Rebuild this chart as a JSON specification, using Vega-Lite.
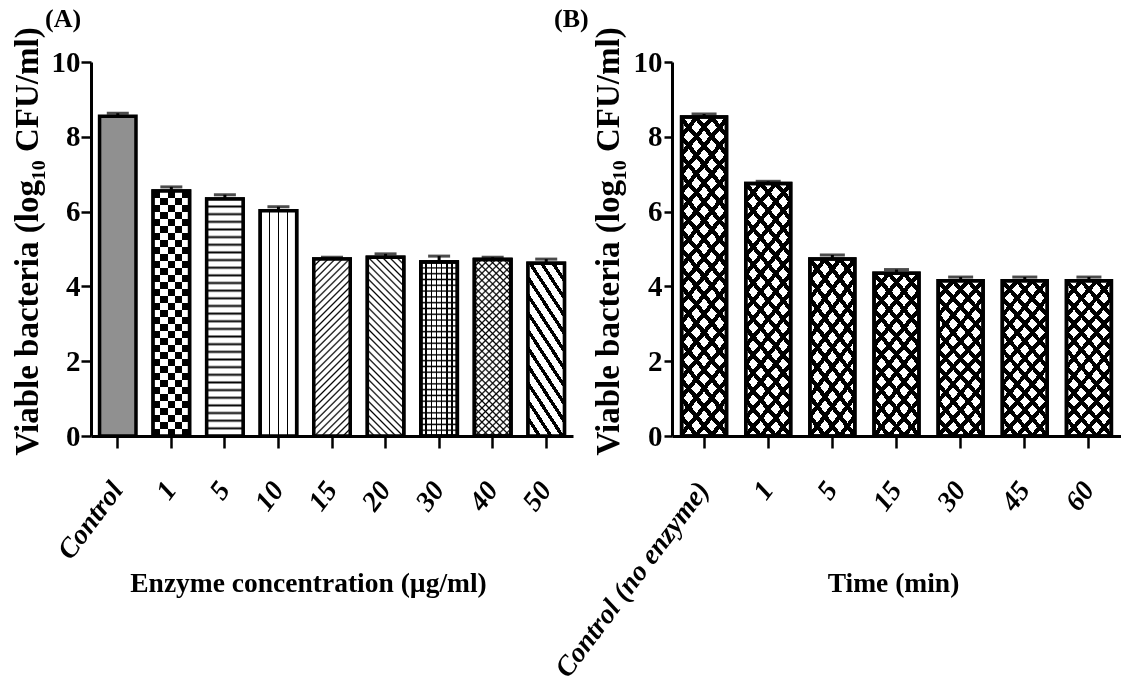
{
  "$schema": "https://vega.github.io/schema/vega-lite/v6.json",
  "autosize": {"type": "pad"},
  "padding": {"left": 10, "top": 5, "right": 0, "bottom": 0},
  "background": "white",
  "bounds": "flush",
  "spacing": 99,
  "config": {
    "view": {"stroke": null},
    "font": "Liberation Serif",
    "axis": {
      "domainColor": "black", "domainWidth": 3, "tickColor": "black", "tickWidth": 2.5,
      "labelColor": "black", "titleColor": "black", "labelFont": "Liberation Serif",
      "titleFont": "Liberation Serif", "labelFontWeight": "bold", "titleFontWeight": "bold", "grid": false, "labelLimit": 500
    },
    "title": {"font": "Liberation Serif", "fontWeight": "bold", "fontSize": 26, "color": "black", "anchor": "start", "frame": "group"}
  },
  "hconcat": [
    {
      "width": 482,
      "height": 374,
      "title": {"text": "(A)", "dx": -46, "offset": -5},
      "data": {"values": [
        {"conc": "Control", "mean": 8.55, "sd": 0.08},
        {"conc": "1", "mean": 6.55, "sd": 0.11},
        {"conc": "5", "mean": 6.34, "sd": 0.11},
        {"conc": "10", "mean": 6.02, "sd": 0.11},
        {"conc": "15", "mean": 4.73, "sd": 0.05},
        {"conc": "20", "mean": 4.78, "sd": 0.09},
        {"conc": "30", "mean": 4.65, "sd": 0.16},
        {"conc": "40", "mean": 4.72, "sd": 0.06},
        {"conc": "50", "mean": 4.62, "sd": 0.11}
      ]},
      "encoding": {
        "x": {
          "field": "conc", "type": "nominal", "sort": null,
          "scale": {"domain": ["Control", "1", "5", "10", "15", "20", "30", "40", "50"], "paddingInner": 0.32, "paddingOuter": 0.16},
          "axis": {
            "title": "Enzyme concentration (µg/ml)", "labelAngle": -53, "labelAlign": "right", "labelBaseline": "middle",
            "labelFontStyle": "italic", "labelFontSize": 28, "tickSize": 12, "labelPadding": 37,
            "titleFontSize": 27.5, "titleX": 217, "titleY": 155, "titleBaseline": "alphabetic"
          }
        },
        "y": {
          "field": "mean", "type": "quantitative", "scale": {"domain": [0, 10]},
          "axis": {
            "title": "Viable bacteria (log₁₀ CFU/ml)", "values": [0, 2, 4, 6, 8, 10], "tickSize": 10, "labelPadding": 1,
            "labelFontSize": 29, "labelFlush": false, "titleFontSize": 33, "titleX": -54, "titleY": 179,
            "titleBaseline": "alphabetic", "titleAngle": -90
          }
        }
      },
      "layer": [
        {
          "mark": {"type": "errorbar", "ticks": {"size": 22, "thickness": 3, "color": "black"}, "rule": {"strokeWidth": 3, "color": "black"}},
          "encoding": {"yError": {"field": "sd"}}
        },
        {
          "mark": {"type": "bar", "stroke": "black", "strokeWidth": 3.5, "opacity": 1},
          "encoding": {
            "fill": {
              "field": "conc", "type": "nominal", "sort": null, "legend": null,
              "scale": {
                "domain": ["Control", "1", "5", "10", "15", "20", "30", "40", "50"],
                "range": ["#909090", "#8a8a8a", "#bdbdbd", "#e0e0e0", "#b5b5b5", "#b5b5b5", "#a8a8a8", "#9e9e9e", "#a6a6a6"]
              }
            }
          }
        },
        {
          "transform": [{"filter": "datum.conc === '1'"}],
          "mark": {"type": "bar", "stroke": "black", "strokeWidth": 3.5, "opacity": 1,
            "fill": {"gradient": "linear", "x1": 0, "y1": 0, "x2": 1, "y2": 0, "stops": [
              {"offset": 0, "color": "#000"}, {"offset": 0.2, "color": "#000"}, {"offset": 0.2, "color": "#fff"},
              {"offset": 0.4, "color": "#fff"}, {"offset": 0.4, "color": "#000"}, {"offset": 0.6, "color": "#000"},
              {"offset": 0.6, "color": "#fff"}, {"offset": 0.8, "color": "#fff"}, {"offset": 0.8, "color": "#000"},
              {"offset": 1, "color": "#000"}
            ]}
          },
          "encoding": {}
        },
        {
          "transform": [{"filter": "datum.conc === '1'"}],
          "mark": {"type": "bar", "stroke": "black", "strokeWidth": 3.5, "opacity": 1, "blend": "difference",
            "fill": {"gradient": "linear", "x1": 0, "y1": 0, "x2": 0, "y2": 1, "stops": [
              {"offset": 0, "color": "#000"}, {"offset": 0.0286, "color": "#000"}, {"offset": 0.0286, "color": "#fff"},
              {"offset": 0.0571, "color": "#fff"}, {"offset": 0.0571, "color": "#000"}, {"offset": 0.0857, "color": "#000"}, {"offset": 0.0857, "color": "#fff"},
              {"offset": 0.1143, "color": "#fff"}, {"offset": 0.1143, "color": "#000"}, {"offset": 0.1429, "color": "#000"}, {"offset": 0.1429, "color": "#fff"},
              {"offset": 0.1714, "color": "#fff"}, {"offset": 0.1714, "color": "#000"}, {"offset": 0.2, "color": "#000"}, {"offset": 0.2, "color": "#fff"},
              {"offset": 0.2286, "color": "#fff"}, {"offset": 0.2286, "color": "#000"}, {"offset": 0.2571, "color": "#000"}, {"offset": 0.2571, "color": "#fff"},
              {"offset": 0.2857, "color": "#fff"}, {"offset": 0.2857, "color": "#000"}, {"offset": 0.3143, "color": "#000"}, {"offset": 0.3143, "color": "#fff"},
              {"offset": 0.3429, "color": "#fff"}, {"offset": 0.3429, "color": "#000"}, {"offset": 0.3714, "color": "#000"}, {"offset": 0.3714, "color": "#fff"},
              {"offset": 0.4, "color": "#fff"}, {"offset": 0.4, "color": "#000"}, {"offset": 0.4286, "color": "#000"}, {"offset": 0.4286, "color": "#fff"},
              {"offset": 0.4571, "color": "#fff"}, {"offset": 0.4571, "color": "#000"}, {"offset": 0.4857, "color": "#000"}, {"offset": 0.4857, "color": "#fff"},
              {"offset": 0.5143, "color": "#fff"}, {"offset": 0.5143, "color": "#000"}, {"offset": 0.5429, "color": "#000"}, {"offset": 0.5429, "color": "#fff"},
              {"offset": 0.5714, "color": "#fff"}, {"offset": 0.5714, "color": "#000"}, {"offset": 0.6, "color": "#000"}, {"offset": 0.6, "color": "#fff"},
              {"offset": 0.6286, "color": "#fff"}, {"offset": 0.6286, "color": "#000"}, {"offset": 0.6571, "color": "#000"}, {"offset": 0.6571, "color": "#fff"},
              {"offset": 0.6857, "color": "#fff"}, {"offset": 0.6857, "color": "#000"}, {"offset": 0.7143, "color": "#000"}, {"offset": 0.7143, "color": "#fff"},
              {"offset": 0.7429, "color": "#fff"}, {"offset": 0.7429, "color": "#000"}, {"offset": 0.7714, "color": "#000"}, {"offset": 0.7714, "color": "#fff"},
              {"offset": 0.8, "color": "#fff"}, {"offset": 0.8, "color": "#000"}, {"offset": 0.8286, "color": "#000"}, {"offset": 0.8286, "color": "#fff"},
              {"offset": 0.8571, "color": "#fff"}, {"offset": 0.8571, "color": "#000"}, {"offset": 0.8857, "color": "#000"}, {"offset": 0.8857, "color": "#fff"},
              {"offset": 0.9143, "color": "#fff"}, {"offset": 0.9143, "color": "#000"}, {"offset": 0.9429, "color": "#000"}, {"offset": 0.9429, "color": "#fff"},
              {"offset": 0.9714, "color": "#fff"}, {"offset": 0.9714, "color": "#000"}, {"offset": 1, "color": "#000"}
            ]}
          },
          "encoding": {}
        },
        {
          "transform": [{"filter": "datum.conc === '10'"}],
          "mark": {"type": "bar", "stroke": "black", "strokeWidth": 3.5, "opacity": 1,
            "fill": {"gradient": "linear", "x1": 0, "y1": 0, "x2": 1, "y2": 0, "stops": [
              {"offset": 0, "color": "white"}, {"offset": 0.23, "color": "white"}, {"offset": 0.23, "color": "black"},
              {"offset": 0.27, "color": "black"}, {"offset": 0.27, "color": "white"}, {"offset": 0.48, "color": "white"},
              {"offset": 0.48, "color": "black"}, {"offset": 0.52, "color": "black"}, {"offset": 0.52, "color": "white"},
              {"offset": 0.73, "color": "white"}, {"offset": 0.73, "color": "black"}, {"offset": 0.77, "color": "black"},
              {"offset": 0.77, "color": "white"}, {"offset": 1, "color": "white"}
            ]}
          },
          "encoding": {}
        },
        {
          "transform": [{"filter": "datum.conc === '5'"}],
          "mark": {"type": "bar", "stroke": "black", "strokeWidth": 3.5, "opacity": 1,
            "fill": {"gradient": "linear", "x1": 0, "y1": 0, "x2": 0, "y2": 1, "stops": [
              {"offset": 0, "color": "white"},
              {"offset": 0.0238, "color": "white"}, {"offset": 0.0323, "color": "black"}, {"offset": 0.0408, "color": "white"},
              {"offset": 0.056, "color": "white"}, {"offset": 0.0645, "color": "black"}, {"offset": 0.073, "color": "white"},
              {"offset": 0.0883, "color": "white"}, {"offset": 0.0968, "color": "black"}, {"offset": 0.1053, "color": "white"},
              {"offset": 0.1205, "color": "white"}, {"offset": 0.129, "color": "black"}, {"offset": 0.1375, "color": "white"},
              {"offset": 0.1528, "color": "white"}, {"offset": 0.1613, "color": "black"}, {"offset": 0.1698, "color": "white"},
              {"offset": 0.185, "color": "white"}, {"offset": 0.1935, "color": "black"}, {"offset": 0.202, "color": "white"},
              {"offset": 0.2173, "color": "white"}, {"offset": 0.2258, "color": "black"}, {"offset": 0.2343, "color": "white"},
              {"offset": 0.2496, "color": "white"}, {"offset": 0.2581, "color": "black"}, {"offset": 0.2666, "color": "white"},
              {"offset": 0.2818, "color": "white"}, {"offset": 0.2903, "color": "black"}, {"offset": 0.2988, "color": "white"},
              {"offset": 0.3141, "color": "white"}, {"offset": 0.3226, "color": "black"}, {"offset": 0.3311, "color": "white"},
              {"offset": 0.3463, "color": "white"}, {"offset": 0.3548, "color": "black"}, {"offset": 0.3633, "color": "white"},
              {"offset": 0.3786, "color": "white"}, {"offset": 0.3871, "color": "black"}, {"offset": 0.3956, "color": "white"},
              {"offset": 0.4109, "color": "white"}, {"offset": 0.4194, "color": "black"}, {"offset": 0.4279, "color": "white"},
              {"offset": 0.4431, "color": "white"}, {"offset": 0.4516, "color": "black"}, {"offset": 0.4601, "color": "white"},
              {"offset": 0.4754, "color": "white"}, {"offset": 0.4839, "color": "black"}, {"offset": 0.4924, "color": "white"},
              {"offset": 0.5076, "color": "white"}, {"offset": 0.5161, "color": "black"}, {"offset": 0.5246, "color": "white"},
              {"offset": 0.5399, "color": "white"}, {"offset": 0.5484, "color": "black"}, {"offset": 0.5569, "color": "white"},
              {"offset": 0.5721, "color": "white"}, {"offset": 0.5806, "color": "black"}, {"offset": 0.5891, "color": "white"},
              {"offset": 0.6044, "color": "white"}, {"offset": 0.6129, "color": "black"}, {"offset": 0.6214, "color": "white"},
              {"offset": 0.6367, "color": "white"}, {"offset": 0.6452, "color": "black"}, {"offset": 0.6537, "color": "white"},
              {"offset": 0.6689, "color": "white"}, {"offset": 0.6774, "color": "black"}, {"offset": 0.6859, "color": "white"},
              {"offset": 0.7012, "color": "white"}, {"offset": 0.7097, "color": "black"}, {"offset": 0.7182, "color": "white"},
              {"offset": 0.7334, "color": "white"}, {"offset": 0.7419, "color": "black"}, {"offset": 0.7504, "color": "white"},
              {"offset": 0.7657, "color": "white"}, {"offset": 0.7742, "color": "black"}, {"offset": 0.7827, "color": "white"},
              {"offset": 0.798, "color": "white"}, {"offset": 0.8065, "color": "black"}, {"offset": 0.815, "color": "white"},
              {"offset": 0.8302, "color": "white"}, {"offset": 0.8387, "color": "black"}, {"offset": 0.8472, "color": "white"},
              {"offset": 0.8625, "color": "white"}, {"offset": 0.871, "color": "black"}, {"offset": 0.8795, "color": "white"},
              {"offset": 0.8947, "color": "white"}, {"offset": 0.9032, "color": "black"}, {"offset": 0.9117, "color": "white"},
              {"offset": 0.927, "color": "white"}, {"offset": 0.9355, "color": "black"}, {"offset": 0.944, "color": "white"},
              {"offset": 0.9592, "color": "white"}, {"offset": 0.9677, "color": "black"}, {"offset": 0.9762, "color": "white"},
              {"offset": 1, "color": "white"}
            ]}
          },
          "encoding": {}
        },
        {
          "transform": [{"filter": "datum.conc === '15' || datum.conc === '40'"}],
          "mark": {"type": "bar", "stroke": "black", "strokeWidth": 3.5, "opacity": 1,
            "fill": {"gradient": "linear", "x1": 0, "y1": 0, "x2": 0.237, "y2": 1.156, "stops": [
              {"offset": 0, "color": "#fff"},
              {"offset": 0.0253, "color": "#fff"}, {"offset": 0.0333, "color": "#000"}, {"offset": 0.0413, "color": "#fff"},
              {"offset": 0.0587, "color": "#fff"}, {"offset": 0.0667, "color": "#000"}, {"offset": 0.0747, "color": "#fff"},
              {"offset": 0.092, "color": "#fff"}, {"offset": 0.1, "color": "#000"}, {"offset": 0.108, "color": "#fff"},
              {"offset": 0.1253, "color": "#fff"}, {"offset": 0.1333, "color": "#000"}, {"offset": 0.1413, "color": "#fff"},
              {"offset": 0.1587, "color": "#fff"}, {"offset": 0.1667, "color": "#000"}, {"offset": 0.1747, "color": "#fff"},
              {"offset": 0.192, "color": "#fff"}, {"offset": 0.2, "color": "#000"}, {"offset": 0.208, "color": "#fff"},
              {"offset": 0.2253, "color": "#fff"}, {"offset": 0.2333, "color": "#000"}, {"offset": 0.2413, "color": "#fff"},
              {"offset": 0.2587, "color": "#fff"}, {"offset": 0.2667, "color": "#000"}, {"offset": 0.2747, "color": "#fff"},
              {"offset": 0.292, "color": "#fff"}, {"offset": 0.3, "color": "#000"}, {"offset": 0.308, "color": "#fff"},
              {"offset": 0.3253, "color": "#fff"}, {"offset": 0.3333, "color": "#000"}, {"offset": 0.3413, "color": "#fff"},
              {"offset": 0.3587, "color": "#fff"}, {"offset": 0.3667, "color": "#000"}, {"offset": 0.3747, "color": "#fff"},
              {"offset": 0.392, "color": "#fff"}, {"offset": 0.4, "color": "#000"}, {"offset": 0.408, "color": "#fff"},
              {"offset": 0.4253, "color": "#fff"}, {"offset": 0.4333, "color": "#000"}, {"offset": 0.4413, "color": "#fff"},
              {"offset": 0.4587, "color": "#fff"}, {"offset": 0.4667, "color": "#000"}, {"offset": 0.4747, "color": "#fff"},
              {"offset": 0.492, "color": "#fff"}, {"offset": 0.5, "color": "#000"}, {"offset": 0.508, "color": "#fff"},
              {"offset": 0.5253, "color": "#fff"}, {"offset": 0.5333, "color": "#000"}, {"offset": 0.5413, "color": "#fff"},
              {"offset": 0.5587, "color": "#fff"}, {"offset": 0.5667, "color": "#000"}, {"offset": 0.5747, "color": "#fff"},
              {"offset": 0.592, "color": "#fff"}, {"offset": 0.6, "color": "#000"}, {"offset": 0.608, "color": "#fff"},
              {"offset": 0.6253, "color": "#fff"}, {"offset": 0.6333, "color": "#000"}, {"offset": 0.6413, "color": "#fff"},
              {"offset": 0.6587, "color": "#fff"}, {"offset": 0.6667, "color": "#000"}, {"offset": 0.6747, "color": "#fff"},
              {"offset": 0.692, "color": "#fff"}, {"offset": 0.7, "color": "#000"}, {"offset": 0.708, "color": "#fff"},
              {"offset": 0.7253, "color": "#fff"}, {"offset": 0.7333, "color": "#000"}, {"offset": 0.7413, "color": "#fff"},
              {"offset": 0.7587, "color": "#fff"}, {"offset": 0.7667, "color": "#000"}, {"offset": 0.7747, "color": "#fff"},
              {"offset": 0.792, "color": "#fff"}, {"offset": 0.8, "color": "#000"}, {"offset": 0.808, "color": "#fff"},
              {"offset": 0.8253, "color": "#fff"}, {"offset": 0.8333, "color": "#000"}, {"offset": 0.8413, "color": "#fff"},
              {"offset": 0.8587, "color": "#fff"}, {"offset": 0.8667, "color": "#000"}, {"offset": 0.8747, "color": "#fff"},
              {"offset": 0.892, "color": "#fff"}, {"offset": 0.9, "color": "#000"}, {"offset": 0.908, "color": "#fff"},
              {"offset": 0.9253, "color": "#fff"}, {"offset": 0.9333, "color": "#000"}, {"offset": 0.9413, "color": "#fff"},
              {"offset": 0.9587, "color": "#fff"}, {"offset": 0.9667, "color": "#000"}, {"offset": 0.9747, "color": "#fff"},
              {"offset": 1, "color": "#fff"}
            ]}
          },
          "encoding": {}
        },
        {
          "transform": [{"filter": "datum.conc === '20'"}],
          "mark": {"type": "bar", "stroke": "black", "strokeWidth": 3.5, "opacity": 1,
            "fill": {"gradient": "linear", "x1": 0, "y1": 1, "x2": 0.237, "y2": -0.156, "stops": [
              {"offset": 0, "color": "#fff"},
              {"offset": 0.0253, "color": "#fff"}, {"offset": 0.0333, "color": "#000"}, {"offset": 0.0413, "color": "#fff"},
              {"offset": 0.0587, "color": "#fff"}, {"offset": 0.0667, "color": "#000"}, {"offset": 0.0747, "color": "#fff"},
              {"offset": 0.092, "color": "#fff"}, {"offset": 0.1, "color": "#000"}, {"offset": 0.108, "color": "#fff"},
              {"offset": 0.1253, "color": "#fff"}, {"offset": 0.1333, "color": "#000"}, {"offset": 0.1413, "color": "#fff"},
              {"offset": 0.1587, "color": "#fff"}, {"offset": 0.1667, "color": "#000"}, {"offset": 0.1747, "color": "#fff"},
              {"offset": 0.192, "color": "#fff"}, {"offset": 0.2, "color": "#000"}, {"offset": 0.208, "color": "#fff"},
              {"offset": 0.2253, "color": "#fff"}, {"offset": 0.2333, "color": "#000"}, {"offset": 0.2413, "color": "#fff"},
              {"offset": 0.2587, "color": "#fff"}, {"offset": 0.2667, "color": "#000"}, {"offset": 0.2747, "color": "#fff"},
              {"offset": 0.292, "color": "#fff"}, {"offset": 0.3, "color": "#000"}, {"offset": 0.308, "color": "#fff"},
              {"offset": 0.3253, "color": "#fff"}, {"offset": 0.3333, "color": "#000"}, {"offset": 0.3413, "color": "#fff"},
              {"offset": 0.3587, "color": "#fff"}, {"offset": 0.3667, "color": "#000"}, {"offset": 0.3747, "color": "#fff"},
              {"offset": 0.392, "color": "#fff"}, {"offset": 0.4, "color": "#000"}, {"offset": 0.408, "color": "#fff"},
              {"offset": 0.4253, "color": "#fff"}, {"offset": 0.4333, "color": "#000"}, {"offset": 0.4413, "color": "#fff"},
              {"offset": 0.4587, "color": "#fff"}, {"offset": 0.4667, "color": "#000"}, {"offset": 0.4747, "color": "#fff"},
              {"offset": 0.492, "color": "#fff"}, {"offset": 0.5, "color": "#000"}, {"offset": 0.508, "color": "#fff"},
              {"offset": 0.5253, "color": "#fff"}, {"offset": 0.5333, "color": "#000"}, {"offset": 0.5413, "color": "#fff"},
              {"offset": 0.5587, "color": "#fff"}, {"offset": 0.5667, "color": "#000"}, {"offset": 0.5747, "color": "#fff"},
              {"offset": 0.592, "color": "#fff"}, {"offset": 0.6, "color": "#000"}, {"offset": 0.608, "color": "#fff"},
              {"offset": 0.6253, "color": "#fff"}, {"offset": 0.6333, "color": "#000"}, {"offset": 0.6413, "color": "#fff"},
              {"offset": 0.6587, "color": "#fff"}, {"offset": 0.6667, "color": "#000"}, {"offset": 0.6747, "color": "#fff"},
              {"offset": 0.692, "color": "#fff"}, {"offset": 0.7, "color": "#000"}, {"offset": 0.708, "color": "#fff"},
              {"offset": 0.7253, "color": "#fff"}, {"offset": 0.7333, "color": "#000"}, {"offset": 0.7413, "color": "#fff"},
              {"offset": 0.7587, "color": "#fff"}, {"offset": 0.7667, "color": "#000"}, {"offset": 0.7747, "color": "#fff"},
              {"offset": 0.792, "color": "#fff"}, {"offset": 0.8, "color": "#000"}, {"offset": 0.808, "color": "#fff"},
              {"offset": 0.8253, "color": "#fff"}, {"offset": 0.8333, "color": "#000"}, {"offset": 0.8413, "color": "#fff"},
              {"offset": 0.8587, "color": "#fff"}, {"offset": 0.8667, "color": "#000"}, {"offset": 0.8747, "color": "#fff"},
              {"offset": 0.892, "color": "#fff"}, {"offset": 0.9, "color": "#000"}, {"offset": 0.908, "color": "#fff"},
              {"offset": 0.9253, "color": "#fff"}, {"offset": 0.9333, "color": "#000"}, {"offset": 0.9413, "color": "#fff"},
              {"offset": 0.9587, "color": "#fff"}, {"offset": 0.9667, "color": "#000"}, {"offset": 0.9747, "color": "#fff"},
              {"offset": 1, "color": "#fff"}
            ]}
          },
          "encoding": {}
        },
        {
          "transform": [{"filter": "datum.conc === '30'"}],
          "mark": {"type": "bar", "stroke": "black", "strokeWidth": 3.5, "opacity": 1,
            "fill": {"gradient": "linear", "x1": 0, "y1": 0, "x2": 1, "y2": 0, "stops": [
              {"offset": 0, "color": "#fff"}, {"offset": 0.123, "color": "#fff"}, {"offset": 0.123, "color": "#000"}, {"offset": 0.163, "color": "#000"}, {"offset": 0.163, "color": "#fff"},
              {"offset": 0.266, "color": "#fff"}, {"offset": 0.266, "color": "#000"}, {"offset": 0.306, "color": "#000"}, {"offset": 0.306, "color": "#fff"},
              {"offset": 0.409, "color": "#fff"}, {"offset": 0.409, "color": "#000"}, {"offset": 0.449, "color": "#000"}, {"offset": 0.449, "color": "#fff"},
              {"offset": 0.551, "color": "#fff"}, {"offset": 0.551, "color": "#000"}, {"offset": 0.591, "color": "#000"}, {"offset": 0.591, "color": "#fff"},
              {"offset": 0.694, "color": "#fff"}, {"offset": 0.694, "color": "#000"}, {"offset": 0.734, "color": "#000"}, {"offset": 0.734, "color": "#fff"},
              {"offset": 0.837, "color": "#fff"}, {"offset": 0.837, "color": "#000"}, {"offset": 0.877, "color": "#000"}, {"offset": 0.877, "color": "#fff"},
              {"offset": 1, "color": "#fff"}
            ]}
          },
          "encoding": {}
        },
        {
          "transform": [{"filter": "datum.conc === '30'"}],
          "mark": {"type": "bar", "stroke": "black", "strokeWidth": 3.5, "opacity": 1,
            "fill": {"gradient": "linear", "x1": 0, "y1": 0, "x2": 0, "y2": 1, "stops": [
              {"offset": 0, "color": "transparent"},
              {"offset": 0.0253, "color": "transparent"}, {"offset": 0.0333, "color": "#000"}, {"offset": 0.0413, "color": "transparent"},
              {"offset": 0.0587, "color": "transparent"}, {"offset": 0.0667, "color": "#000"}, {"offset": 0.0747, "color": "transparent"},
              {"offset": 0.092, "color": "transparent"}, {"offset": 0.1, "color": "#000"}, {"offset": 0.108, "color": "transparent"},
              {"offset": 0.1253, "color": "transparent"}, {"offset": 0.1333, "color": "#000"}, {"offset": 0.1413, "color": "transparent"},
              {"offset": 0.1587, "color": "transparent"}, {"offset": 0.1667, "color": "#000"}, {"offset": 0.1747, "color": "transparent"},
              {"offset": 0.192, "color": "transparent"}, {"offset": 0.2, "color": "#000"}, {"offset": 0.208, "color": "transparent"},
              {"offset": 0.2253, "color": "transparent"}, {"offset": 0.2333, "color": "#000"}, {"offset": 0.2413, "color": "transparent"},
              {"offset": 0.2587, "color": "transparent"}, {"offset": 0.2667, "color": "#000"}, {"offset": 0.2747, "color": "transparent"},
              {"offset": 0.292, "color": "transparent"}, {"offset": 0.3, "color": "#000"}, {"offset": 0.308, "color": "transparent"},
              {"offset": 0.3253, "color": "transparent"}, {"offset": 0.3333, "color": "#000"}, {"offset": 0.3413, "color": "transparent"},
              {"offset": 0.3587, "color": "transparent"}, {"offset": 0.3667, "color": "#000"}, {"offset": 0.3747, "color": "transparent"},
              {"offset": 0.392, "color": "transparent"}, {"offset": 0.4, "color": "#000"}, {"offset": 0.408, "color": "transparent"},
              {"offset": 0.4253, "color": "transparent"}, {"offset": 0.4333, "color": "#000"}, {"offset": 0.4413, "color": "transparent"},
              {"offset": 0.4587, "color": "transparent"}, {"offset": 0.4667, "color": "#000"}, {"offset": 0.4747, "color": "transparent"},
              {"offset": 0.492, "color": "transparent"}, {"offset": 0.5, "color": "#000"}, {"offset": 0.508, "color": "transparent"},
              {"offset": 0.5253, "color": "transparent"}, {"offset": 0.5333, "color": "#000"}, {"offset": 0.5413, "color": "transparent"},
              {"offset": 0.5587, "color": "transparent"}, {"offset": 0.5667, "color": "#000"}, {"offset": 0.5747, "color": "transparent"},
              {"offset": 0.592, "color": "transparent"}, {"offset": 0.6, "color": "#000"}, {"offset": 0.608, "color": "transparent"},
              {"offset": 0.6253, "color": "transparent"}, {"offset": 0.6333, "color": "#000"}, {"offset": 0.6413, "color": "transparent"},
              {"offset": 0.6587, "color": "transparent"}, {"offset": 0.6667, "color": "#000"}, {"offset": 0.6747, "color": "transparent"},
              {"offset": 0.692, "color": "transparent"}, {"offset": 0.7, "color": "#000"}, {"offset": 0.708, "color": "transparent"},
              {"offset": 0.7253, "color": "transparent"}, {"offset": 0.7333, "color": "#000"}, {"offset": 0.7413, "color": "transparent"},
              {"offset": 0.7587, "color": "transparent"}, {"offset": 0.7667, "color": "#000"}, {"offset": 0.7747, "color": "transparent"},
              {"offset": 0.792, "color": "transparent"}, {"offset": 0.8, "color": "#000"}, {"offset": 0.808, "color": "transparent"},
              {"offset": 0.8253, "color": "transparent"}, {"offset": 0.8333, "color": "#000"}, {"offset": 0.8413, "color": "transparent"},
              {"offset": 0.8587, "color": "transparent"}, {"offset": 0.8667, "color": "#000"}, {"offset": 0.8747, "color": "transparent"},
              {"offset": 0.892, "color": "transparent"}, {"offset": 0.9, "color": "#000"}, {"offset": 0.908, "color": "transparent"},
              {"offset": 0.9253, "color": "transparent"}, {"offset": 0.9333, "color": "#000"}, {"offset": 0.9413, "color": "transparent"},
              {"offset": 0.9587, "color": "transparent"}, {"offset": 0.9667, "color": "#000"}, {"offset": 0.9747, "color": "transparent"},
              {"offset": 1, "color": "transparent"}
            ]}
          },
          "encoding": {}
        },
        {
          "transform": [{"filter": "datum.conc === '40'"}],
          "mark": {"type": "bar", "stroke": "black", "strokeWidth": 3.5, "opacity": 1,
            "fill": {"gradient": "linear", "x1": 0, "y1": 1, "x2": 0.237, "y2": -0.156, "stops": [
              {"offset": 0, "color": "transparent"},
              {"offset": 0.0253, "color": "transparent"}, {"offset": 0.0333, "color": "#000"}, {"offset": 0.0413, "color": "transparent"},
              {"offset": 0.0587, "color": "transparent"}, {"offset": 0.0667, "color": "#000"}, {"offset": 0.0747, "color": "transparent"},
              {"offset": 0.092, "color": "transparent"}, {"offset": 0.1, "color": "#000"}, {"offset": 0.108, "color": "transparent"},
              {"offset": 0.1253, "color": "transparent"}, {"offset": 0.1333, "color": "#000"}, {"offset": 0.1413, "color": "transparent"},
              {"offset": 0.1587, "color": "transparent"}, {"offset": 0.1667, "color": "#000"}, {"offset": 0.1747, "color": "transparent"},
              {"offset": 0.192, "color": "transparent"}, {"offset": 0.2, "color": "#000"}, {"offset": 0.208, "color": "transparent"},
              {"offset": 0.2253, "color": "transparent"}, {"offset": 0.2333, "color": "#000"}, {"offset": 0.2413, "color": "transparent"},
              {"offset": 0.2587, "color": "transparent"}, {"offset": 0.2667, "color": "#000"}, {"offset": 0.2747, "color": "transparent"},
              {"offset": 0.292, "color": "transparent"}, {"offset": 0.3, "color": "#000"}, {"offset": 0.308, "color": "transparent"},
              {"offset": 0.3253, "color": "transparent"}, {"offset": 0.3333, "color": "#000"}, {"offset": 0.3413, "color": "transparent"},
              {"offset": 0.3587, "color": "transparent"}, {"offset": 0.3667, "color": "#000"}, {"offset": 0.3747, "color": "transparent"},
              {"offset": 0.392, "color": "transparent"}, {"offset": 0.4, "color": "#000"}, {"offset": 0.408, "color": "transparent"},
              {"offset": 0.4253, "color": "transparent"}, {"offset": 0.4333, "color": "#000"}, {"offset": 0.4413, "color": "transparent"},
              {"offset": 0.4587, "color": "transparent"}, {"offset": 0.4667, "color": "#000"}, {"offset": 0.4747, "color": "transparent"},
              {"offset": 0.492, "color": "transparent"}, {"offset": 0.5, "color": "#000"}, {"offset": 0.508, "color": "transparent"},
              {"offset": 0.5253, "color": "transparent"}, {"offset": 0.5333, "color": "#000"}, {"offset": 0.5413, "color": "transparent"},
              {"offset": 0.5587, "color": "transparent"}, {"offset": 0.5667, "color": "#000"}, {"offset": 0.5747, "color": "transparent"},
              {"offset": 0.592, "color": "transparent"}, {"offset": 0.6, "color": "#000"}, {"offset": 0.608, "color": "transparent"},
              {"offset": 0.6253, "color": "transparent"}, {"offset": 0.6333, "color": "#000"}, {"offset": 0.6413, "color": "transparent"},
              {"offset": 0.6587, "color": "transparent"}, {"offset": 0.6667, "color": "#000"}, {"offset": 0.6747, "color": "transparent"},
              {"offset": 0.692, "color": "transparent"}, {"offset": 0.7, "color": "#000"}, {"offset": 0.708, "color": "transparent"},
              {"offset": 0.7253, "color": "transparent"}, {"offset": 0.7333, "color": "#000"}, {"offset": 0.7413, "color": "transparent"},
              {"offset": 0.7587, "color": "transparent"}, {"offset": 0.7667, "color": "#000"}, {"offset": 0.7747, "color": "transparent"},
              {"offset": 0.792, "color": "transparent"}, {"offset": 0.8, "color": "#000"}, {"offset": 0.808, "color": "transparent"},
              {"offset": 0.8253, "color": "transparent"}, {"offset": 0.8333, "color": "#000"}, {"offset": 0.8413, "color": "transparent"},
              {"offset": 0.8587, "color": "transparent"}, {"offset": 0.8667, "color": "#000"}, {"offset": 0.8747, "color": "transparent"},
              {"offset": 0.892, "color": "transparent"}, {"offset": 0.9, "color": "#000"}, {"offset": 0.908, "color": "transparent"},
              {"offset": 0.9253, "color": "transparent"}, {"offset": 0.9333, "color": "#000"}, {"offset": 0.9413, "color": "transparent"},
              {"offset": 0.9587, "color": "transparent"}, {"offset": 0.9667, "color": "#000"}, {"offset": 0.9747, "color": "transparent"},
              {"offset": 1, "color": "transparent"}
            ]}
          },
          "encoding": {}
        },
        {
          "transform": [{"filter": "datum.conc === '50'"}],
          "mark": {"type": "bar", "stroke": "black", "strokeWidth": 3.5, "opacity": 1,
            "fill": {"gradient": "linear", "x1": 0, "y1": 1, "x2": 0.387, "y2": -0.198, "stops": [
              {"offset": 0, "color": "#000"}, {"offset": 0.0135, "color": "#000"}, {"offset": 0.0135, "color": "#fff"},
              {"offset": 0.063, "color": "#fff"}, {"offset": 0.063, "color": "#000"}, {"offset": 0.09, "color": "#000"}, {"offset": 0.09, "color": "#fff"},
              {"offset": 0.14, "color": "#fff"}, {"offset": 0.14, "color": "#000"}, {"offset": 0.167, "color": "#000"}, {"offset": 0.167, "color": "#fff"},
              {"offset": 0.217, "color": "#fff"}, {"offset": 0.217, "color": "#000"}, {"offset": 0.244, "color": "#000"}, {"offset": 0.244, "color": "#fff"},
              {"offset": 0.294, "color": "#fff"}, {"offset": 0.294, "color": "#000"}, {"offset": 0.321, "color": "#000"}, {"offset": 0.321, "color": "#fff"},
              {"offset": 0.371, "color": "#fff"}, {"offset": 0.371, "color": "#000"}, {"offset": 0.398, "color": "#000"}, {"offset": 0.398, "color": "#fff"},
              {"offset": 0.448, "color": "#fff"}, {"offset": 0.448, "color": "#000"}, {"offset": 0.475, "color": "#000"}, {"offset": 0.475, "color": "#fff"},
              {"offset": 0.525, "color": "#fff"}, {"offset": 0.525, "color": "#000"}, {"offset": 0.552, "color": "#000"}, {"offset": 0.552, "color": "#fff"},
              {"offset": 0.602, "color": "#fff"}, {"offset": 0.602, "color": "#000"}, {"offset": 0.629, "color": "#000"}, {"offset": 0.629, "color": "#fff"},
              {"offset": 0.679, "color": "#fff"}, {"offset": 0.679, "color": "#000"}, {"offset": 0.706, "color": "#000"}, {"offset": 0.706, "color": "#fff"},
              {"offset": 0.756, "color": "#fff"}, {"offset": 0.756, "color": "#000"}, {"offset": 0.783, "color": "#000"}, {"offset": 0.783, "color": "#fff"},
              {"offset": 0.833, "color": "#fff"}, {"offset": 0.833, "color": "#000"}, {"offset": 0.86, "color": "#000"}, {"offset": 0.86, "color": "#fff"},
              {"offset": 0.91, "color": "#fff"}, {"offset": 0.91, "color": "#000"}, {"offset": 0.937, "color": "#000"}, {"offset": 0.937, "color": "#fff"},
              {"offset": 0.9865, "color": "#fff"}, {"offset": 0.9865, "color": "#000"}, {"offset": 1, "color": "#000"}
            ]}
          },
          "encoding": {}
        }
      ]
    },
    {
      "width": 449,
      "height": 374,
      "title": {"text": "(B)", "dx": -118, "offset": -5},
      "data": {"values": [
        {"time": "Control (no enzyme)", "mean": 8.53, "sd": 0.08},
        {"time": "1", "mean": 6.75, "sd": 0.06},
        {"time": "5", "mean": 4.73, "sd": 0.11},
        {"time": "15", "mean": 4.35, "sd": 0.1},
        {"time": "30", "mean": 4.15, "sd": 0.1},
        {"time": "45", "mean": 4.15, "sd": 0.1},
        {"time": "60", "mean": 4.15, "sd": 0.1}
      ]},
      "encoding": {
        "x": {
          "field": "time", "type": "nominal", "sort": null,
          "scale": {"domain": ["Control (no enzyme)", "1", "5", "15", "30", "45", "60"], "paddingInner": 0.3, "paddingOuter": 0.15},
          "axis": {
            "title": "Time (min)", "labelAngle": -53, "labelAlign": "right", "labelBaseline": "middle",
            "labelFontStyle": "italic", "labelFontSize": 28, "tickSize": 12, "labelPadding": 37,
            "titleFontSize": 27.5, "titleX": 221, "titleY": 155, "titleBaseline": "alphabetic"
          }
        },
        "y": {
          "field": "mean", "type": "quantitative", "scale": {"domain": [0, 10]},
          "axis": {
            "title": "Viable bacteria (log₁₀ CFU/ml)", "values": [0, 2, 4, 6, 8, 10], "tickSize": 8, "labelPadding": 2,
            "labelFontSize": 29, "labelFlush": false, "titleFontSize": 33, "titleX": -54, "titleY": 179,
            "titleBaseline": "alphabetic", "titleAngle": -90
          }
        }
      },
      "layer": [
        {
          "mark": {"type": "errorbar", "ticks": {"size": 25, "thickness": 3, "color": "black"}, "rule": {"strokeWidth": 3, "color": "black"}},
          "encoding": {"yError": {"field": "sd"}}
        },
        {
          "transform": [{"filter": "datum.time === 'Control (no enzyme)'"}],
          "mark": {"type": "bar", "stroke": "black", "strokeWidth": 3.5, "opacity": 1,
            "fill": {"gradient": "linear", "x1": 0, "y1": 0, "x2": 0.193, "y2": 1.137, "stops": [
              {"offset": 0, "color": "#000"}, {"offset": 0.009, "color": "#000"}, {"offset": 0.009, "color": "#fff"},
              {"offset": 0.041, "color": "#fff"}, {"offset": 0.041, "color": "#000"}, {"offset": 0.059, "color": "#000"}, {"offset": 0.059, "color": "#fff"},
              {"offset": 0.091, "color": "#fff"}, {"offset": 0.091, "color": "#000"}, {"offset": 0.109, "color": "#000"}, {"offset": 0.109, "color": "#fff"},
              {"offset": 0.141, "color": "#fff"}, {"offset": 0.141, "color": "#000"}, {"offset": 0.159, "color": "#000"}, {"offset": 0.159, "color": "#fff"},
              {"offset": 0.191, "color": "#fff"}, {"offset": 0.191, "color": "#000"}, {"offset": 0.209, "color": "#000"}, {"offset": 0.209, "color": "#fff"},
              {"offset": 0.241, "color": "#fff"}, {"offset": 0.241, "color": "#000"}, {"offset": 0.259, "color": "#000"}, {"offset": 0.259, "color": "#fff"},
              {"offset": 0.291, "color": "#fff"}, {"offset": 0.291, "color": "#000"}, {"offset": 0.309, "color": "#000"}, {"offset": 0.309, "color": "#fff"},
              {"offset": 0.341, "color": "#fff"}, {"offset": 0.341, "color": "#000"}, {"offset": 0.359, "color": "#000"}, {"offset": 0.359, "color": "#fff"},
              {"offset": 0.391, "color": "#fff"}, {"offset": 0.391, "color": "#000"}, {"offset": 0.409, "color": "#000"}, {"offset": 0.409, "color": "#fff"},
              {"offset": 0.441, "color": "#fff"}, {"offset": 0.441, "color": "#000"}, {"offset": 0.459, "color": "#000"}, {"offset": 0.459, "color": "#fff"},
              {"offset": 0.491, "color": "#fff"}, {"offset": 0.491, "color": "#000"}, {"offset": 0.509, "color": "#000"}, {"offset": 0.509, "color": "#fff"},
              {"offset": 0.541, "color": "#fff"}, {"offset": 0.541, "color": "#000"}, {"offset": 0.559, "color": "#000"}, {"offset": 0.559, "color": "#fff"},
              {"offset": 0.591, "color": "#fff"}, {"offset": 0.591, "color": "#000"}, {"offset": 0.609, "color": "#000"}, {"offset": 0.609, "color": "#fff"},
              {"offset": 0.641, "color": "#fff"}, {"offset": 0.641, "color": "#000"}, {"offset": 0.659, "color": "#000"}, {"offset": 0.659, "color": "#fff"},
              {"offset": 0.691, "color": "#fff"}, {"offset": 0.691, "color": "#000"}, {"offset": 0.709, "color": "#000"}, {"offset": 0.709, "color": "#fff"},
              {"offset": 0.741, "color": "#fff"}, {"offset": 0.741, "color": "#000"}, {"offset": 0.759, "color": "#000"}, {"offset": 0.759, "color": "#fff"},
              {"offset": 0.791, "color": "#fff"}, {"offset": 0.791, "color": "#000"}, {"offset": 0.809, "color": "#000"}, {"offset": 0.809, "color": "#fff"},
              {"offset": 0.841, "color": "#fff"}, {"offset": 0.841, "color": "#000"}, {"offset": 0.859, "color": "#000"}, {"offset": 0.859, "color": "#fff"},
              {"offset": 0.891, "color": "#fff"}, {"offset": 0.891, "color": "#000"}, {"offset": 0.909, "color": "#000"}, {"offset": 0.909, "color": "#fff"},
              {"offset": 0.941, "color": "#fff"}, {"offset": 0.941, "color": "#000"}, {"offset": 0.959, "color": "#000"}, {"offset": 0.959, "color": "#fff"},
              {"offset": 0.991, "color": "#fff"}, {"offset": 0.991, "color": "#000"}, {"offset": 1, "color": "#000"}
            ]}
          },
          "encoding": {}
        },
        {
          "transform": [{"filter": "datum.time === 'Control (no enzyme)'"}],
          "mark": {"type": "bar", "stroke": "black", "strokeWidth": 3.5, "opacity": 1,
            "fill": {"gradient": "linear", "x1": 1, "y1": 0, "x2": 0.807, "y2": 1.137, "stops": [
              {"offset": 0, "color": "#000"}, {"offset": 0.009, "color": "#000"}, {"offset": 0.009, "color": "transparent"},
              {"offset": 0.041, "color": "transparent"}, {"offset": 0.041, "color": "#000"}, {"offset": 0.059, "color": "#000"}, {"offset": 0.059, "color": "transparent"},
              {"offset": 0.091, "color": "transparent"}, {"offset": 0.091, "color": "#000"}, {"offset": 0.109, "color": "#000"}, {"offset": 0.109, "color": "transparent"},
              {"offset": 0.141, "color": "transparent"}, {"offset": 0.141, "color": "#000"}, {"offset": 0.159, "color": "#000"}, {"offset": 0.159, "color": "transparent"},
              {"offset": 0.191, "color": "transparent"}, {"offset": 0.191, "color": "#000"}, {"offset": 0.209, "color": "#000"}, {"offset": 0.209, "color": "transparent"},
              {"offset": 0.241, "color": "transparent"}, {"offset": 0.241, "color": "#000"}, {"offset": 0.259, "color": "#000"}, {"offset": 0.259, "color": "transparent"},
              {"offset": 0.291, "color": "transparent"}, {"offset": 0.291, "color": "#000"}, {"offset": 0.309, "color": "#000"}, {"offset": 0.309, "color": "transparent"},
              {"offset": 0.341, "color": "transparent"}, {"offset": 0.341, "color": "#000"}, {"offset": 0.359, "color": "#000"}, {"offset": 0.359, "color": "transparent"},
              {"offset": 0.391, "color": "transparent"}, {"offset": 0.391, "color": "#000"}, {"offset": 0.409, "color": "#000"}, {"offset": 0.409, "color": "transparent"},
              {"offset": 0.441, "color": "transparent"}, {"offset": 0.441, "color": "#000"}, {"offset": 0.459, "color": "#000"}, {"offset": 0.459, "color": "transparent"},
              {"offset": 0.491, "color": "transparent"}, {"offset": 0.491, "color": "#000"}, {"offset": 0.509, "color": "#000"}, {"offset": 0.509, "color": "transparent"},
              {"offset": 0.541, "color": "transparent"}, {"offset": 0.541, "color": "#000"}, {"offset": 0.559, "color": "#000"}, {"offset": 0.559, "color": "transparent"},
              {"offset": 0.591, "color": "transparent"}, {"offset": 0.591, "color": "#000"}, {"offset": 0.609, "color": "#000"}, {"offset": 0.609, "color": "transparent"},
              {"offset": 0.641, "color": "transparent"}, {"offset": 0.641, "color": "#000"}, {"offset": 0.659, "color": "#000"}, {"offset": 0.659, "color": "transparent"},
              {"offset": 0.691, "color": "transparent"}, {"offset": 0.691, "color": "#000"}, {"offset": 0.709, "color": "#000"}, {"offset": 0.709, "color": "transparent"},
              {"offset": 0.741, "color": "transparent"}, {"offset": 0.741, "color": "#000"}, {"offset": 0.759, "color": "#000"}, {"offset": 0.759, "color": "transparent"},
              {"offset": 0.791, "color": "transparent"}, {"offset": 0.791, "color": "#000"}, {"offset": 0.809, "color": "#000"}, {"offset": 0.809, "color": "transparent"},
              {"offset": 0.841, "color": "transparent"}, {"offset": 0.841, "color": "#000"}, {"offset": 0.859, "color": "#000"}, {"offset": 0.859, "color": "transparent"},
              {"offset": 0.891, "color": "transparent"}, {"offset": 0.891, "color": "#000"}, {"offset": 0.909, "color": "#000"}, {"offset": 0.909, "color": "transparent"},
              {"offset": 0.941, "color": "transparent"}, {"offset": 0.941, "color": "#000"}, {"offset": 0.959, "color": "#000"}, {"offset": 0.959, "color": "transparent"},
              {"offset": 0.991, "color": "transparent"}, {"offset": 0.991, "color": "#000"}, {"offset": 1, "color": "#000"}
            ]}
          },
          "encoding": {}
        },
        {
          "transform": [{"filter": "datum.time === '1'"}],
          "mark": {"type": "bar", "stroke": "black", "strokeWidth": 3.5, "opacity": 1,
            "fill": {"gradient": "linear", "x1": 0, "y1": 0, "x2": 0.248, "y2": 1.161, "stops": [
              {"offset": 0, "color": "#000"}, {"offset": 0.011, "color": "#000"}, {"offset": 0.011, "color": "#fff"},
              {"offset": 0.048, "color": "#fff"}, {"offset": 0.048, "color": "#000"}, {"offset": 0.069, "color": "#000"}, {"offset": 0.069, "color": "#fff"},
              {"offset": 0.107, "color": "#fff"}, {"offset": 0.107, "color": "#000"}, {"offset": 0.128, "color": "#000"}, {"offset": 0.128, "color": "#fff"},
              {"offset": 0.166, "color": "#fff"}, {"offset": 0.166, "color": "#000"}, {"offset": 0.187, "color": "#000"}, {"offset": 0.187, "color": "#fff"},
              {"offset": 0.225, "color": "#fff"}, {"offset": 0.225, "color": "#000"}, {"offset": 0.246, "color": "#000"}, {"offset": 0.246, "color": "#fff"},
              {"offset": 0.284, "color": "#fff"}, {"offset": 0.284, "color": "#000"}, {"offset": 0.305, "color": "#000"}, {"offset": 0.305, "color": "#fff"},
              {"offset": 0.342, "color": "#fff"}, {"offset": 0.342, "color": "#000"}, {"offset": 0.364, "color": "#000"}, {"offset": 0.364, "color": "#fff"},
              {"offset": 0.401, "color": "#fff"}, {"offset": 0.401, "color": "#000"}, {"offset": 0.422, "color": "#000"}, {"offset": 0.422, "color": "#fff"},
              {"offset": 0.46, "color": "#fff"}, {"offset": 0.46, "color": "#000"}, {"offset": 0.481, "color": "#000"}, {"offset": 0.481, "color": "#fff"},
              {"offset": 0.519, "color": "#fff"}, {"offset": 0.519, "color": "#000"}, {"offset": 0.54, "color": "#000"}, {"offset": 0.54, "color": "#fff"},
              {"offset": 0.578, "color": "#fff"}, {"offset": 0.578, "color": "#000"}, {"offset": 0.599, "color": "#000"}, {"offset": 0.599, "color": "#fff"},
              {"offset": 0.636, "color": "#fff"}, {"offset": 0.636, "color": "#000"}, {"offset": 0.658, "color": "#000"}, {"offset": 0.658, "color": "#fff"},
              {"offset": 0.695, "color": "#fff"}, {"offset": 0.695, "color": "#000"}, {"offset": 0.717, "color": "#000"}, {"offset": 0.717, "color": "#fff"},
              {"offset": 0.754, "color": "#fff"}, {"offset": 0.754, "color": "#000"}, {"offset": 0.775, "color": "#000"}, {"offset": 0.775, "color": "#fff"},
              {"offset": 0.813, "color": "#fff"}, {"offset": 0.813, "color": "#000"}, {"offset": 0.834, "color": "#000"}, {"offset": 0.834, "color": "#fff"},
              {"offset": 0.872, "color": "#fff"}, {"offset": 0.872, "color": "#000"}, {"offset": 0.893, "color": "#000"}, {"offset": 0.893, "color": "#fff"},
              {"offset": 0.931, "color": "#fff"}, {"offset": 0.931, "color": "#000"}, {"offset": 0.952, "color": "#000"}, {"offset": 0.952, "color": "#fff"},
              {"offset": 0.989, "color": "#fff"}, {"offset": 0.989, "color": "#000"}, {"offset": 1, "color": "#000"}
            ]}
          },
          "encoding": {}
        },
        {
          "transform": [{"filter": "datum.time === '1'"}],
          "mark": {"type": "bar", "stroke": "black", "strokeWidth": 3.5, "opacity": 1,
            "fill": {"gradient": "linear", "x1": 1, "y1": 0, "x2": 0.752, "y2": 1.161, "stops": [
              {"offset": 0, "color": "#000"}, {"offset": 0.011, "color": "#000"}, {"offset": 0.011, "color": "transparent"},
              {"offset": 0.048, "color": "transparent"}, {"offset": 0.048, "color": "#000"}, {"offset": 0.069, "color": "#000"}, {"offset": 0.069, "color": "transparent"},
              {"offset": 0.107, "color": "transparent"}, {"offset": 0.107, "color": "#000"}, {"offset": 0.128, "color": "#000"}, {"offset": 0.128, "color": "transparent"},
              {"offset": 0.166, "color": "transparent"}, {"offset": 0.166, "color": "#000"}, {"offset": 0.187, "color": "#000"}, {"offset": 0.187, "color": "transparent"},
              {"offset": 0.225, "color": "transparent"}, {"offset": 0.225, "color": "#000"}, {"offset": 0.246, "color": "#000"}, {"offset": 0.246, "color": "transparent"},
              {"offset": 0.284, "color": "transparent"}, {"offset": 0.284, "color": "#000"}, {"offset": 0.305, "color": "#000"}, {"offset": 0.305, "color": "transparent"},
              {"offset": 0.342, "color": "transparent"}, {"offset": 0.342, "color": "#000"}, {"offset": 0.364, "color": "#000"}, {"offset": 0.364, "color": "transparent"},
              {"offset": 0.401, "color": "transparent"}, {"offset": 0.401, "color": "#000"}, {"offset": 0.422, "color": "#000"}, {"offset": 0.422, "color": "transparent"},
              {"offset": 0.46, "color": "transparent"}, {"offset": 0.46, "color": "#000"}, {"offset": 0.481, "color": "#000"}, {"offset": 0.481, "color": "transparent"},
              {"offset": 0.519, "color": "transparent"}, {"offset": 0.519, "color": "#000"}, {"offset": 0.54, "color": "#000"}, {"offset": 0.54, "color": "transparent"},
              {"offset": 0.578, "color": "transparent"}, {"offset": 0.578, "color": "#000"}, {"offset": 0.599, "color": "#000"}, {"offset": 0.599, "color": "transparent"},
              {"offset": 0.636, "color": "transparent"}, {"offset": 0.636, "color": "#000"}, {"offset": 0.658, "color": "#000"}, {"offset": 0.658, "color": "transparent"},
              {"offset": 0.695, "color": "transparent"}, {"offset": 0.695, "color": "#000"}, {"offset": 0.717, "color": "#000"}, {"offset": 0.717, "color": "transparent"},
              {"offset": 0.754, "color": "transparent"}, {"offset": 0.754, "color": "#000"}, {"offset": 0.775, "color": "#000"}, {"offset": 0.775, "color": "transparent"},
              {"offset": 0.813, "color": "transparent"}, {"offset": 0.813, "color": "#000"}, {"offset": 0.834, "color": "#000"}, {"offset": 0.834, "color": "transparent"},
              {"offset": 0.872, "color": "transparent"}, {"offset": 0.872, "color": "#000"}, {"offset": 0.893, "color": "#000"}, {"offset": 0.893, "color": "transparent"},
              {"offset": 0.931, "color": "transparent"}, {"offset": 0.931, "color": "#000"}, {"offset": 0.952, "color": "#000"}, {"offset": 0.952, "color": "transparent"},
              {"offset": 0.989, "color": "transparent"}, {"offset": 0.989, "color": "#000"}, {"offset": 1, "color": "#000"}
            ]}
          },
          "encoding": {}
        },
        {
          "transform": [{"filter": "datum.mean < 5"}],
          "mark": {"type": "bar", "stroke": "black", "strokeWidth": 3.5, "opacity": 1,
            "fill": {"gradient": "linear", "x1": 0, "y1": 0, "x2": 0.398, "y2": 1.2, "stops": [
              {"offset": 0, "color": "#000"}, {"offset": 0.015, "color": "#000"}, {"offset": 0.015, "color": "#fff"},
              {"offset": 0.068, "color": "#fff"}, {"offset": 0.068, "color": "#000"}, {"offset": 0.098, "color": "#000"}, {"offset": 0.098, "color": "#fff"},
              {"offset": 0.152, "color": "#fff"}, {"offset": 0.152, "color": "#000"}, {"offset": 0.182, "color": "#000"}, {"offset": 0.182, "color": "#fff"},
              {"offset": 0.235, "color": "#fff"}, {"offset": 0.235, "color": "#000"}, {"offset": 0.265, "color": "#000"}, {"offset": 0.265, "color": "#fff"},
              {"offset": 0.318, "color": "#fff"}, {"offset": 0.318, "color": "#000"}, {"offset": 0.348, "color": "#000"}, {"offset": 0.348, "color": "#fff"},
              {"offset": 0.402, "color": "#fff"}, {"offset": 0.402, "color": "#000"}, {"offset": 0.432, "color": "#000"}, {"offset": 0.432, "color": "#fff"},
              {"offset": 0.485, "color": "#fff"}, {"offset": 0.485, "color": "#000"}, {"offset": 0.515, "color": "#000"}, {"offset": 0.515, "color": "#fff"},
              {"offset": 0.568, "color": "#fff"}, {"offset": 0.568, "color": "#000"}, {"offset": 0.598, "color": "#000"}, {"offset": 0.598, "color": "#fff"},
              {"offset": 0.652, "color": "#fff"}, {"offset": 0.652, "color": "#000"}, {"offset": 0.682, "color": "#000"}, {"offset": 0.682, "color": "#fff"},
              {"offset": 0.735, "color": "#fff"}, {"offset": 0.735, "color": "#000"}, {"offset": 0.765, "color": "#000"}, {"offset": 0.765, "color": "#fff"},
              {"offset": 0.818, "color": "#fff"}, {"offset": 0.818, "color": "#000"}, {"offset": 0.848, "color": "#000"}, {"offset": 0.848, "color": "#fff"},
              {"offset": 0.902, "color": "#fff"}, {"offset": 0.902, "color": "#000"}, {"offset": 0.932, "color": "#000"}, {"offset": 0.932, "color": "#fff"},
              {"offset": 0.985, "color": "#fff"}, {"offset": 0.985, "color": "#000"}, {"offset": 1, "color": "#000"}
            ]}
          },
          "encoding": {}
        },
        {
          "transform": [{"filter": "datum.mean < 5"}],
          "mark": {"type": "bar", "stroke": "black", "strokeWidth": 3.5, "opacity": 1,
            "fill": {"gradient": "linear", "x1": 1, "y1": 0, "x2": 0.602, "y2": 1.2, "stops": [
              {"offset": 0, "color": "#000"}, {"offset": 0.015, "color": "#000"}, {"offset": 0.015, "color": "transparent"},
              {"offset": 0.068, "color": "transparent"}, {"offset": 0.068, "color": "#000"}, {"offset": 0.098, "color": "#000"}, {"offset": 0.098, "color": "transparent"},
              {"offset": 0.152, "color": "transparent"}, {"offset": 0.152, "color": "#000"}, {"offset": 0.182, "color": "#000"}, {"offset": 0.182, "color": "transparent"},
              {"offset": 0.235, "color": "transparent"}, {"offset": 0.235, "color": "#000"}, {"offset": 0.265, "color": "#000"}, {"offset": 0.265, "color": "transparent"},
              {"offset": 0.318, "color": "transparent"}, {"offset": 0.318, "color": "#000"}, {"offset": 0.348, "color": "#000"}, {"offset": 0.348, "color": "transparent"},
              {"offset": 0.402, "color": "transparent"}, {"offset": 0.402, "color": "#000"}, {"offset": 0.432, "color": "#000"}, {"offset": 0.432, "color": "transparent"},
              {"offset": 0.485, "color": "transparent"}, {"offset": 0.485, "color": "#000"}, {"offset": 0.515, "color": "#000"}, {"offset": 0.515, "color": "transparent"},
              {"offset": 0.568, "color": "transparent"}, {"offset": 0.568, "color": "#000"}, {"offset": 0.598, "color": "#000"}, {"offset": 0.598, "color": "transparent"},
              {"offset": 0.652, "color": "transparent"}, {"offset": 0.652, "color": "#000"}, {"offset": 0.682, "color": "#000"}, {"offset": 0.682, "color": "transparent"},
              {"offset": 0.735, "color": "transparent"}, {"offset": 0.735, "color": "#000"}, {"offset": 0.765, "color": "#000"}, {"offset": 0.765, "color": "transparent"},
              {"offset": 0.818, "color": "transparent"}, {"offset": 0.818, "color": "#000"}, {"offset": 0.848, "color": "#000"}, {"offset": 0.848, "color": "transparent"},
              {"offset": 0.902, "color": "transparent"}, {"offset": 0.902, "color": "#000"}, {"offset": 0.932, "color": "#000"}, {"offset": 0.932, "color": "transparent"},
              {"offset": 0.985, "color": "transparent"}, {"offset": 0.985, "color": "#000"}, {"offset": 1, "color": "#000"}
            ]}
          },
          "encoding": {}
        }
      ]
    }
  ]
}
